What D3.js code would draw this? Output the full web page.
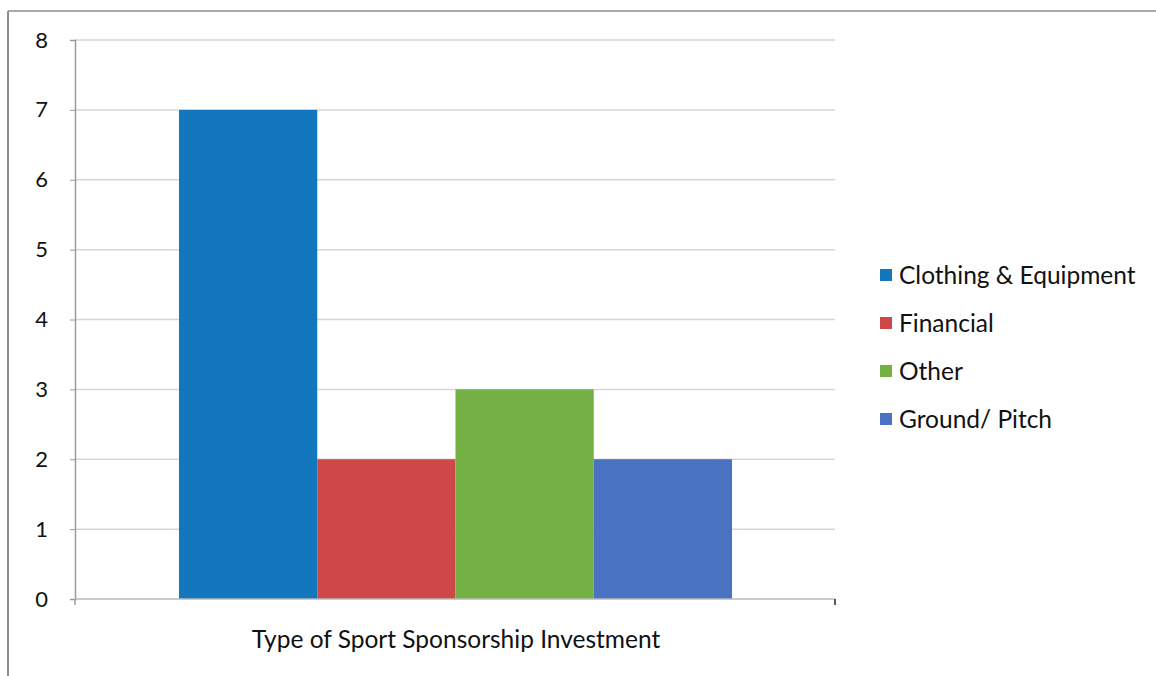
<!DOCTYPE html>
<html>
<head>
<meta charset="utf-8">
<script src="https://cdn.jsdelivr.net/npm/d3@7"></script>
<style>
  html, body { margin: 0; padding: 0; background: #fff; }
  svg { display: block; }
  text { font-family: Lato, "Open Sans", sans-serif; fill: #111; }
</style>
</head>
<body>
<svg id="chart" width="1156" height="676"></svg>
<script>
// Sponsorship investment counts by type
const categories = ["Clothing & Equipment", "Financial", "Other", "Ground/ Pitch"];
const values = [7, 2, 3, 2];
const colors = ["#1277bd", "#cf4848", "#74b043", "#4a72c2"];
const yTicks = [0, 1, 2, 3, 4, 5, 6, 7, 8];
const xTitle = "Type of Sport Sponsorship Investment";

const svg = d3.select("#chart");

// outer frame: top and left edges
svg.append("line").attr("x1", 8).attr("x2", 1156).attr("y1", 11).attr("y2", 11)
  .attr("stroke", "#a7aaa8").attr("stroke-width", 2);
svg.append("line").attr("x1", 8).attr("x2", 8).attr("y1", 11).attr("y2", 676)
  .attr("stroke", "#8e8e8e").attr("stroke-width", 2);

const plot = { left: 75, right: 835, top: 40, bottom: 599 };

const y = d3.scaleLinear().domain([0, 8]).range([plot.bottom, plot.top]);
const x = d3.scaleBand().domain(categories).range([179, 732]).padding(0);

// horizontal gridlines
svg.append("g").selectAll("line").data(yTicks.filter(d => d > 0)).join("line")
  .attr("x1", plot.left).attr("x2", plot.right)
  .attr("y1", d => y(d)).attr("y2", d => y(d))
  .attr("stroke", "#d6d6d6").attr("stroke-width", 1.5);

// y axis
const yAxis = svg.append("g").attr("transform", `translate(${plot.left},0)`)
  .call(d3.axisLeft(y).tickValues(yTicks).tickSize(5).tickPadding(22).tickFormat(d3.format("d")));
yAxis.select(".domain").attr("stroke", "#9a9a9a").attr("stroke-width", 1.5);
yAxis.selectAll(".tick line").attr("stroke", "#9a9a9a");
yAxis.selectAll(".tick text").style("font-size", "22px").attr("fill", "#111")
  .style("font-family", "Lato, sans-serif");

// bars
svg.append("g").selectAll("rect").data(values).join("rect")
  .attr("x", (d, i) => x(categories[i]))
  .attr("y", d => y(d))
  .attr("width", x.bandwidth())
  .attr("height", d => y(0) - y(d))
  .attr("fill", (d, i) => colors[i]);

// x axis baseline with end ticks
svg.append("line").attr("x1", plot.left).attr("x2", plot.right)
  .attr("y1", y(0)).attr("y2", y(0)).attr("stroke", "#b8b8b8").attr("stroke-width", 1.5);
[plot.left, plot.right].forEach(px => {
  svg.append("line").attr("x1", px).attr("x2", px).attr("y1", y(0)).attr("y2", y(0) + 6)
    .attr("stroke", px === plot.right ? "#222" : "#9a9a9a").attr("stroke-width", 1.5);
});

// x axis title
svg.append("text").attr("x", 456).attr("y", 648)
  .attr("text-anchor", "middle").style("font-size", "24.5px").text(xTitle);

// legend
const legend = svg.append("g").attr("transform", "translate(880,275)");
const rowGap = 48;
categories.forEach((c, i) => {
  const g = legend.append("g").attr("transform", `translate(0,${i * rowGap})`);
  g.append("rect").attr("x", 0).attr("y", -6).attr("width", 12).attr("height", 12).attr("fill", colors[i]);
  g.append("text").attr("x", 19).attr("y", 0).attr("dy", "0.35em")
    .style("font-size", "24.5px").text(c);
});
</script>
</body>
</html>
